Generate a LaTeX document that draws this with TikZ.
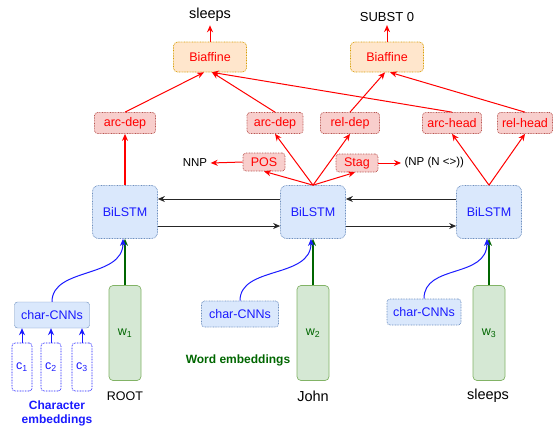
\documentclass[tikz,border=0pt]{standalone}
\usepackage{fontspec}
\setmainfont{Liberation Sans}
\usetikzlibrary{arrows.meta, positioning}
\definecolor{outRed}{HTML}{FF0000}
\definecolor{redFill}{HTML}{F8CECC}
\definecolor{redLine}{HTML}{B85450}
\definecolor{orgFill}{HTML}{FFE6CC}
\definecolor{orgLine}{HTML}{D79B00}
\definecolor{lstmFill}{HTML}{DAE8FC}
\definecolor{lstmLine}{HTML}{6C8EBF}
\definecolor{lstmText}{HTML}{1A1AFF}
\definecolor{embFill}{HTML}{D5E8D4}
\definecolor{embLine}{HTML}{82B366}
\definecolor{embText}{HTML}{006600}

\begin{document}
\begin{tikzpicture}[x=1pt, y=-1pt, font=\fontsize{12.5}{14}\selectfont,
    dots/.style={line width=0.7pt, dash pattern=on 0.8pt off 0.8pt},
    headbox/.style={dots, fill=redFill, draw=redLine, rounded corners=3pt,
      minimum height=21pt, inner sep=2pt, text=outRed},
    biaf/.style={dots, fill=orgFill, draw=orgLine, rounded corners=4pt,
      minimum width=73pt, minimum height=30pt, text=outRed},
    lstm/.style={dots, fill=lstmFill, draw=lstmLine, rounded corners=6pt,
      minimum width=65pt, minimum height=53pt, text=lstmText},
    cnn/.style={fill=lstmFill, draw=lstmLine, rounded corners=3pt,
      minimum height=26pt, inner sep=2pt, text=lstmText},
    chr/.style={dots, draw=lstmText, rounded corners=3pt, minimum width=20pt,
      minimum height=48pt, inner sep=0pt, text=lstmText},
    word/.style={fill=embFill, draw=embLine, line width=0.7pt, rounded corners=4pt,
      minimum width=32pt, minimum height=95pt, inner sep=0pt, text=embText},
    redarr/.style={draw=outRed, line width=1pt, -{Stealth[length=7pt, width=6pt]}},
    blkarr/.style={draw=black!85, line width=0.9pt, -{Stealth[length=7pt, width=6pt]}},
    bluearr/.style={draw=lstmText, line width=1pt, -{Stealth[length=7pt, width=6pt]}},
    grnarr/.style={draw=embText, line width=1.15pt, -{Stealth[length=7pt, width=6pt]}}]
  \useasboundingbox (0,0) rectangle (553,426);

  % output layer
  \node[biaf] (bia1) at (210,57) {Biaffine};
  \node[biaf] (bia2) at (387,57) {Biaffine};
  \node[font=\fontsize{14.5}{16}\selectfont] (out1) at (210,15) {sleeps};
  \node[font=\fontsize{13}{15}\selectfont] (out2) at (387,17) {SUBST 0};

  % MLP heads
  \node[headbox, minimum width=61pt] (ad1) at (125,123) {arc-dep};
  \node[headbox, minimum width=56pt] (ad2) at (275,123) {arc-dep};
  \node[headbox, minimum width=59pt] (rd2) at (350,123) {rel-dep};
  \node[headbox, minimum width=59pt] (ah3) at (452,123) {arc-head};
  \node[headbox, minimum width=55pt] (rh3) at (525,123) {rel-head};
  \node[headbox, minimum width=42pt, minimum height=18pt] (pos) at (264,162) {POS};
  \node[headbox, minimum width=42pt, minimum height=18pt] (stag) at (357,163) {Stag};
  \node[font=\fontsize{11.5}{13}\selectfont] (nnp) at (195,163) {NNP};
  \node[font=\fontsize{11.5}{13}\selectfont, anchor=west] (sup) at (401,163) {(NP (N <>))};

  % BiLSTM
  \node[lstm] (lstm1) at (125,212) {BiLSTM};
  \node[lstm] (lstm2) at (313,212) {BiLSTM};
  \node[lstm] (lstm3) at (489,212) {BiLSTM};

  % embeddings
  \node[word] (w1) at (125,333) {w\textsubscript{1}};
  \node[word] (w2) at (313,333) {w\textsubscript{2}};
  \node[word] (w3) at (489,333) {w\textsubscript{3}};
  \node (tok1) at (125,396) {ROOT};
  \node[font=\fontsize{14.5}{16}\selectfont] (tok2) at (313,396) {John};
  \node[font=\fontsize{14.5}{16}\selectfont] (tok3) at (488,396) {sleeps};

  \node[cnn, minimum width=75pt] (cnn1) at (52,315) {char-CNNs};
  \node[cnn, dots, minimum width=77pt] (cnn2) at (240,314) {char-CNNs};
  \node[cnn, dots, minimum width=74pt] (cnn3) at (424,312) {char-CNNs};
  \node[chr] (c1) at (22,367) {c\textsubscript{1}};
  \node[chr] (c2) at (51,367) {c\textsubscript{2}};
  \node[chr] (c3) at (82,367) {c\textsubscript{3}};
  \node[font=\bfseries\fontsize{12}{14}\selectfont, text=lstmText, align=center]
    (chrlab) at (57,413) {Character\\embeddings};
  \node[font=\bfseries\fontsize{12}{14}\selectfont, text=embText]
    (wordlab) at (238,360) {Word embeddings};

  % connectors
  \draw[redarr] (bia1) -- (out1);
  \draw[redarr] (bia2) -- (out2);
  \draw[redarr] (ad1.north) -- ([xshift=-6pt]bia1.south);
  \draw[redarr] (ad2.north) -- ([xshift=2pt]bia1.south);
  \draw[redarr] (ah3.north) -- ([xshift=2pt]bia1.south);
  \draw[redarr] (rd2.north) -- ([xshift=-2pt]bia2.south);
  \draw[redarr] (rh3.north) -- ([xshift=3pt]bia2.south);

  \draw[redarr, line width=1.15pt] (lstm1.north) -- (ad1.south);
  \draw[redarr] (lstm2.north) -- (ad2.south);
  \draw[redarr] (lstm2.north) -- (rd2.south);
  \draw[redarr] (lstm2.north) -- (pos.south);
  \draw[redarr] (lstm2.north) -- ([xshift=-2pt]stag.south);
  \draw[redarr] (lstm3.north) -- (ah3.south);
  \draw[redarr] (lstm3.north) -- (rh3.south);
  \draw[redarr] (pos.west) -- (nnp.east);
  \draw[redarr] (stag.east) -- (sup.west);

  \draw[blkarr] ([yshift=13pt]lstm2.west) -- ([yshift=13pt]lstm1.east);
  \draw[blkarr] ([yshift=-14pt]lstm1.east) -- ([yshift=-14pt]lstm2.west);
  \draw[blkarr] ([yshift=13pt]lstm3.west) -- ([yshift=13pt]lstm2.east);
  \draw[blkarr] ([yshift=-14pt]lstm2.east) -- ([yshift=-14pt]lstm3.west);

  \draw[grnarr] (w1.north) -- (lstm1.south);
  \draw[grnarr] (w2.north) -- (lstm2.south);
  \draw[grnarr] (w3.north) -- (lstm3.south);
  \draw[bluearr] (cnn1.north) .. controls +(0,-35) and +(0,40) .. ([xshift=-2pt]lstm1.south);
  \draw[bluearr] (cnn2.north) .. controls +(0,-35) and +(0,40) .. ([xshift=-2pt]lstm2.south);
  \draw[bluearr] (cnn3.north) .. controls +(0,-35) and +(0,40) .. ([xshift=-2pt]lstm3.south);
  \draw[bluearr] (c1.north) -- (c1.north |- cnn1.south);
  \draw[bluearr] (c2.north) -- (c2.north |- cnn1.south);
  \draw[bluearr] (c3.north) -- (c3.north |- cnn1.south);
\end{tikzpicture}
\end{document}
